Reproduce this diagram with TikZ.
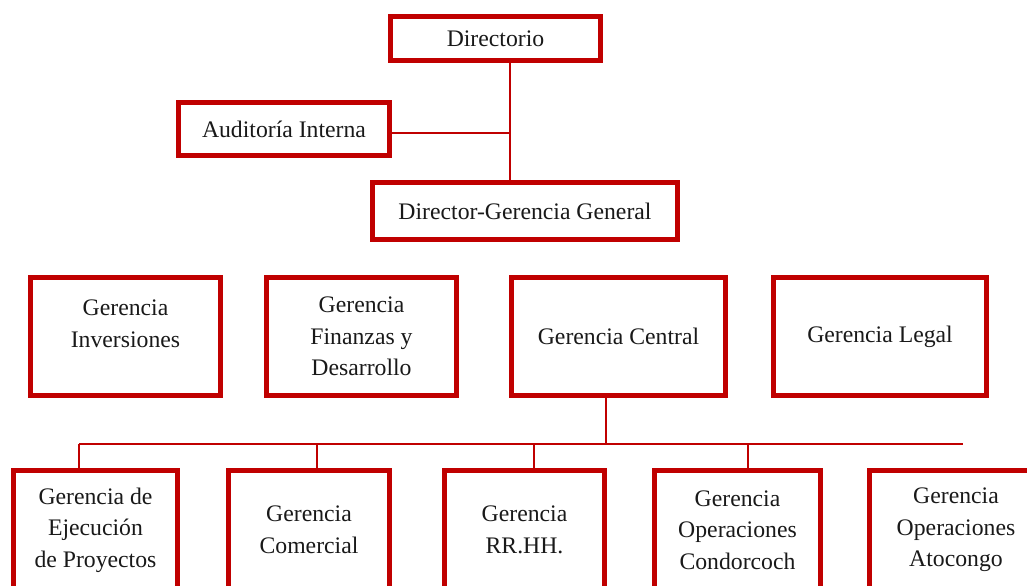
\documentclass[tikz,border=0pt]{standalone}
\usepackage{fontspec}
\setmainfont{Liberation Serif}
\usepackage{tikz}

\definecolor{boxred}{RGB}{192,0,0}
\tikzset{
  every unit/.style={draw=boxred, line width=2.6pt, align=center, inner sep=0pt,
    text=black!90, font=\fontsize{13.5}{18}\selectfont},
  link/.style={draw=boxred, line width=1.1pt}
}

\begin{document}
\begin{tikzpicture}[x=0.02cm, y=-0.02cm]
\useasboundingbox (0,0) rectangle (1027,585);
\clip (0,0) rectangle (1027,585);

\node [every unit, minimum width=4.21cm, minimum height=0.89cm] (dir) at (495.5,38.5) {Directorio};
\node [every unit, minimum width=4.23cm, minimum height=1.07cm] (aud) at (284,129) {Auditoría Interna};
\node [every unit, minimum width=6.11cm, minimum height=1.15cm] (dgg) at (525,211) {Director-Gerencia General};

\foreach \m/\x/\w/\l in {1/125.5/3.81/{Gerencia\\Inversiones\\[-9pt]\strut},
    2/361.5/3.81/{Gerencia\\Finanzas y\\Desarrollo},
    3/618.5/4.29/{Gerencia Central},
    4/880/4.27/{Gerencia Legal}}
  \node [every unit, minimum width=\w cm, minimum height=2.37cm] (mid-\m) at (\x,336.5) {\l};

\foreach \m/\x/\w/\l in {1/95.5/3.29/{Gerencia de\\Ejecución\\de Proyectos},
    2/309/3.23/{Gerencia\\Comercial},
    3/524.5/3.21/{Gerencia\\RR.HH.},
    4/737.5/3.33/{Gerencia\\Operaciones\\Condorcoch},
    5/956/3.47/{Gerencia\\Operaciones\\Atocongo}}
  \node [every unit, minimum width=\w cm, minimum height=2.39cm] (low-\m) at (\x,530) {\l};

% upper links
\coordinate (trunk) at (510,133);
\draw [link] (dir.south -| trunk) -- (dgg.north -| trunk);
\draw [link] (trunk -| aud.east) -- (trunk);

% bus under Gerencia Central
\coordinate (bus) at (606,444);
\coordinate (bus-l) at (79,444);
\coordinate (bus-r) at (963,444);
\draw [link] (mid-3.south -| bus) -- (bus);
\draw [link] (bus-l) -- (bus-r);

\foreach \i/\x in {1/79,2/317,3/534,4/748}
  \draw [link] (\x,444) -- (low-\i.north -| {(\x,0)});
\end{tikzpicture}
\end{document}
